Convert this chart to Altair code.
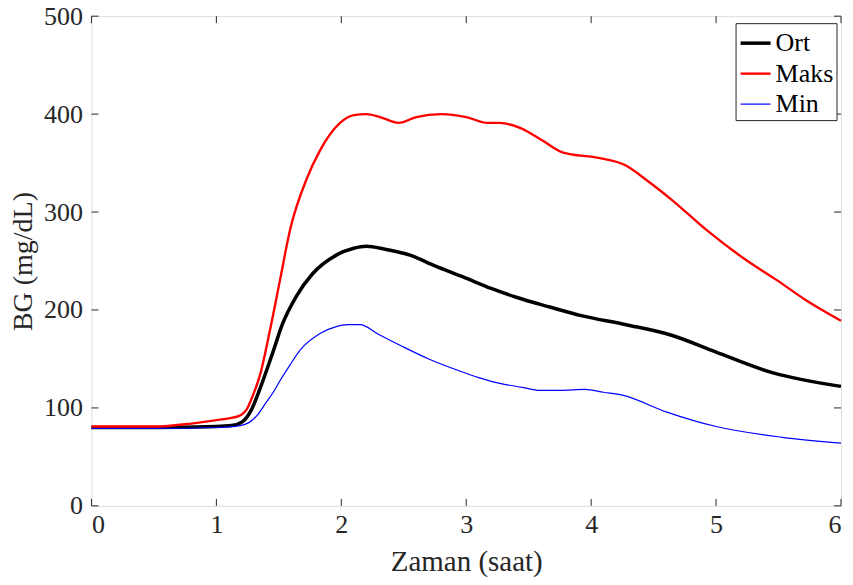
import altair as alt
import pandas as pd

# Ort (mean)
ort_t = [0, 0.5, 1.0, 1.12, 1.21, 1.28, 1.35, 1.45, 1.53, 1.64, 1.77, 1.96, 2.1, 2.2, 2.35, 2.55, 2.75, 2.97, 3.2, 3.4, 3.67, 3.93, 4.28, 4.65, 5.0, 5.45, 6.0]
ort_v = [80, 80, 81, 82, 86, 98, 120, 156, 186, 214, 237, 256, 263, 265, 262, 256, 245, 234, 222, 213, 203, 194, 185, 174, 157, 136, 122]

# Maks
maks_t = [0, 0.5, 0.8, 1.03, 1.13, 1.2, 1.24, 1.29, 1.35, 1.43, 1.51, 1.59, 1.72, 1.83, 1.99, 2.1, 2.2, 2.31, 2.46, 2.6, 2.8, 3.0, 3.17, 3.27, 3.43, 3.61, 3.77, 4.07, 4.27, 4.45, 4.65, 4.92, 5.24, 5.48, 5.72, 6.0]
maks_v = [81, 81, 84, 88, 90, 93, 98, 112, 134, 180, 231, 282, 333, 363, 391, 399, 400, 397, 391, 397, 400, 397, 391, 391, 386, 373, 361, 355, 348, 332, 312, 282, 251, 231, 210, 189]

# Min
min_t = [0, 0.5, 1.0, 1.19, 1.26, 1.33, 1.4, 1.45, 1.51, 1.59, 1.67, 1.83, 1.96, 2.05, 2.15, 2.3, 2.47, 2.7, 2.92, 3.1, 3.27, 3.45, 3.59, 3.75, 3.95, 4.1, 4.25, 4.6, 5.0, 5.53, 6.0]
min_v = [79, 79, 80, 82, 85, 93, 106, 115, 128, 144, 159, 176, 183, 185, 185, 175, 164, 150, 139, 131, 125, 121, 118, 118, 119, 116, 113, 96, 81, 70, 64]

series_names = ["Ort", "Maks", "Min"]
series_colors = ["#000000", "#ff0000", "#0000ff"]
series_widths = [3.5, 1.2, 1.2]

x_ticks = [0, 1, 2, 3, 4, 5, 6]
y_ticks = [0, 100, 200, 300, 400, 500]

rows = []
for name, ts, vs in [("Ort", ort_t, ort_v), ("Maks", maks_t, maks_v), ("Min", min_t, min_v)]:
    for i, (t, v) in enumerate(zip(ts, vs)):
        rows.append({"t": t, "v": v, "s": name, "o": i})
df = pd.DataFrame(rows)

xt = pd.DataFrame({"x": x_ticks})
yt = pd.DataFrame({"y": y_ticks})

FONT = "Liberation Serif"
AX = "#262626"
W, H = 750, 490

xscale = alt.Scale(domain=[0, 6], nice=False, zero=False)
yscale = alt.Scale(domain=[0, 500], nice=False)

lines = alt.Chart(df).mark_line(interpolate="monotone").encode(
    x=alt.X("t:Q", scale=xscale,
            axis=alt.Axis(values=x_ticks, format="d", title="Zaman (saat)", tickSize=0, domain=False, grid=False,
                          labelPadding=6, titlePadding=10, labelFontSize=26, titleFontSize=29,
                          labelFont=FONT, titleFont=FONT, labelColor=AX, titleColor=AX,
                          titleFontWeight="normal")),
    y=alt.Y("v:Q", scale=yscale,
            axis=alt.Axis(values=y_ticks, format="d", title="BG (mg/dL)", tickSize=0, domain=False, grid=False,
                          labelPadding=9, titlePadding=6, labelFontSize=26, titleFontSize=28,
                          labelFont=FONT, titleFont=FONT, labelColor=AX, titleColor=AX,
                          titleFontWeight="normal")),
    color=alt.Color("s:N", scale=alt.Scale(domain=series_names, range=series_colors),
                    legend=alt.Legend(title=None, orient="none", legendX=644.5, legendY=7,
                                      symbolType="stroke", symbolSize=900, labelFont=FONT,
                                      labelFontSize=26, labelColor="#000000", labelOffset=3,
                                      rowPadding=1, padding=3, strokeColor="#262626",
                                      fillColor="white", symbolStrokeWidth=1.4)),
    strokeWidth=alt.StrokeWidth("s:N", scale=alt.Scale(domain=series_names, range=series_widths),
                                legend=None),
    order="o:Q",
)

tick_x_bottom = alt.Chart(xt).mark_rule(color=AX, strokeWidth=1).encode(
    x=alt.X("x:Q", scale=xscale), y=alt.value(H), y2=alt.value(H - 7))
tick_x_top = alt.Chart(xt).mark_rule(color=AX, strokeWidth=1).encode(
    x=alt.X("x:Q", scale=xscale), y=alt.value(0), y2=alt.value(7))
tick_y_left = alt.Chart(yt).mark_rule(color=AX, strokeWidth=1).encode(
    y=alt.Y("y:Q", scale=yscale), x=alt.value(0), x2=alt.value(7))
tick_y_right = alt.Chart(yt).mark_rule(color=AX, strokeWidth=1).encode(
    y=alt.Y("y:Q", scale=yscale), x=alt.value(W), x2=alt.value(W - 7))

chart = alt.layer(lines, tick_x_bottom, tick_x_top, tick_y_left, tick_y_right).properties(
    width=W, height=H,
    autosize=alt.AutoSizeParams(type="none"),
    padding={"left": 83.5, "top": 8, "right": 4, "bottom": 71},
).configure_view(stroke=AX, strokeWidth=1.3).configure(background="white", font=FONT)

chart.save("out.html", embed_options={"renderer": "svg", "actions": False})
